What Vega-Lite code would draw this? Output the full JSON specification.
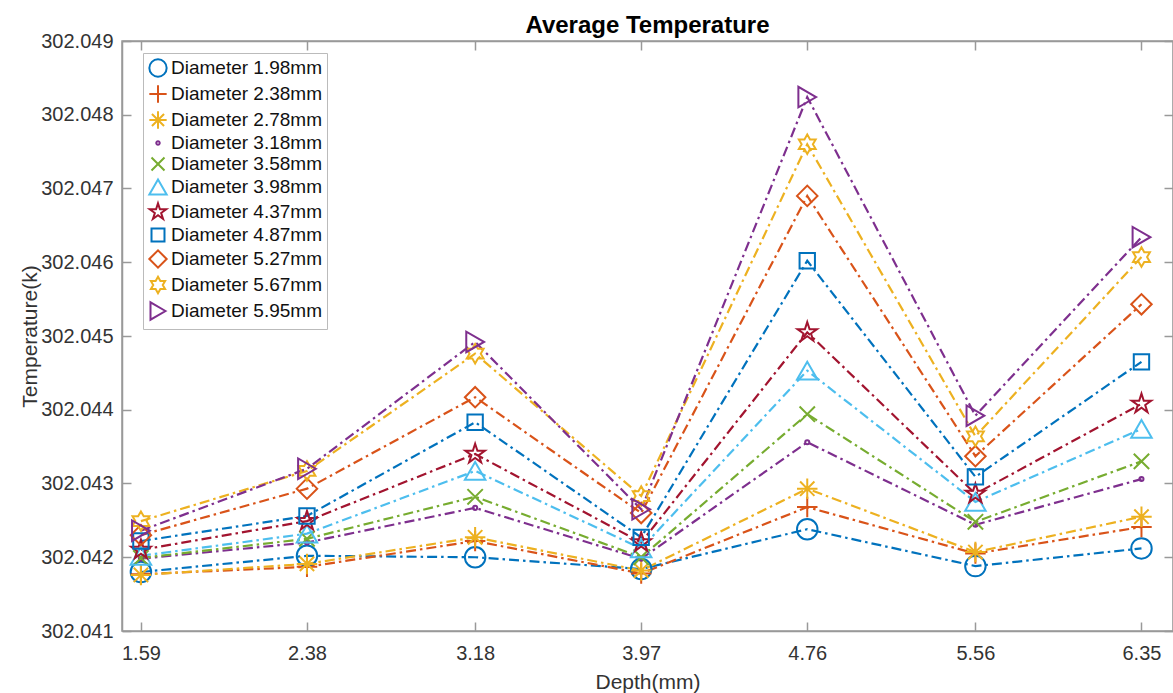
{
 "$schema": "https://vega.github.io/schema/vega-lite/v6.json",
 "autosize": {"type": "none"},
 "padding": {"left": 122, "top": 41, "right": 0, "bottom": 62},
 "width": 1051,
 "height": 590,
 "background": "white",
 "title": {"text": "Average Temperature", "fontSize": 24, "fontWeight": "bold", "font": "Liberation Sans", "offset": -7, "color": "#000", "anchor": "middle"},
 "config": {
  "view": {"stroke": "#999", "strokeWidth": 1.5},
  "axis": {"domainColor": "#999", "domainWidth": 1.5, "tickColor": "#999", "tickWidth": 1.5, "tickSize": -9, "labelColor": "#333", "labelFont": "Liberation Sans", "labelFontSize": 20, "titleFont": "Liberation Sans", "titleFontSize": 21, "titleFontWeight": "normal", "titleColor": "#333", "grid": false},
  "legend": {"orient": "none", "legendX": 21, "legendY": 12, "strokeColor": "#bbb", "fillColor": "#fff", "padding": 5, "labelFontSize": 19, "labelFont": "Liberation Sans", "labelColor": "#111", "symbolSize": 300, "symbolStrokeWidth": 2, "rowPadding": 0, "labelOffset": 3, "labelLimit": 300}
 },
 "data": {"values": [
  {"series": "Diameter 1.98mm", "depth": 1.59, "temp": 302.04180},
  {"series": "Diameter 1.98mm", "depth": 2.38, "temp": 302.04202},
  {"series": "Diameter 1.98mm", "depth": 3.18, "temp": 302.04200},
  {"series": "Diameter 1.98mm", "depth": 3.97, "temp": 302.04184},
  {"series": "Diameter 1.98mm", "depth": 4.76, "temp": 302.04238},
  {"series": "Diameter 1.98mm", "depth": 5.56, "temp": 302.04188},
  {"series": "Diameter 1.98mm", "depth": 6.35, "temp": 302.04212},
  {"series": "Diameter 2.38mm", "depth": 1.59, "temp": 302.04177},
  {"series": "Diameter 2.38mm", "depth": 2.38, "temp": 302.04187},
  {"series": "Diameter 2.38mm", "depth": 3.18, "temp": 302.04222},
  {"series": "Diameter 2.38mm", "depth": 3.97, "temp": 302.04178},
  {"series": "Diameter 2.38mm", "depth": 4.76, "temp": 302.04268},
  {"series": "Diameter 2.38mm", "depth": 5.56, "temp": 302.04205},
  {"series": "Diameter 2.38mm", "depth": 6.35, "temp": 302.04241},
  {"series": "Diameter 2.78mm", "depth": 1.59, "temp": 302.04176},
  {"series": "Diameter 2.78mm", "depth": 2.38, "temp": 302.04191},
  {"series": "Diameter 2.78mm", "depth": 3.18, "temp": 302.04227},
  {"series": "Diameter 2.78mm", "depth": 3.97, "temp": 302.04182},
  {"series": "Diameter 2.78mm", "depth": 4.76, "temp": 302.04293},
  {"series": "Diameter 2.78mm", "depth": 5.56, "temp": 302.04207},
  {"series": "Diameter 2.78mm", "depth": 6.35, "temp": 302.04255},
  {"series": "Diameter 3.18mm", "depth": 1.59, "temp": 302.04198},
  {"series": "Diameter 3.18mm", "depth": 2.38, "temp": 302.04220},
  {"series": "Diameter 3.18mm", "depth": 3.18, "temp": 302.04267},
  {"series": "Diameter 3.18mm", "depth": 3.97, "temp": 302.04198},
  {"series": "Diameter 3.18mm", "depth": 4.76, "temp": 302.04356},
  {"series": "Diameter 3.18mm", "depth": 5.56, "temp": 302.04244},
  {"series": "Diameter 3.18mm", "depth": 6.35, "temp": 302.04306},
  {"series": "Diameter 3.58mm", "depth": 1.59, "temp": 302.04199},
  {"series": "Diameter 3.58mm", "depth": 2.38, "temp": 302.04225},
  {"series": "Diameter 3.58mm", "depth": 3.18, "temp": 302.04282},
  {"series": "Diameter 3.58mm", "depth": 3.97, "temp": 302.04200},
  {"series": "Diameter 3.58mm", "depth": 4.76, "temp": 302.04394},
  {"series": "Diameter 3.58mm", "depth": 5.56, "temp": 302.04248},
  {"series": "Diameter 3.58mm", "depth": 6.35, "temp": 302.04330},
  {"series": "Diameter 3.98mm", "depth": 1.59, "temp": 302.04202},
  {"series": "Diameter 3.98mm", "depth": 2.38, "temp": 302.04232},
  {"series": "Diameter 3.98mm", "depth": 3.18, "temp": 302.04317},
  {"series": "Diameter 3.98mm", "depth": 3.97, "temp": 302.04212},
  {"series": "Diameter 3.98mm", "depth": 4.76, "temp": 302.04453},
  {"series": "Diameter 3.98mm", "depth": 5.56, "temp": 302.04275},
  {"series": "Diameter 3.98mm", "depth": 6.35, "temp": 302.04374},
  {"series": "Diameter 4.37mm", "depth": 1.59, "temp": 302.04210},
  {"series": "Diameter 4.37mm", "depth": 2.38, "temp": 302.04249},
  {"series": "Diameter 4.37mm", "depth": 3.18, "temp": 302.04340},
  {"series": "Diameter 4.37mm", "depth": 3.97, "temp": 302.04220},
  {"series": "Diameter 4.37mm", "depth": 4.76, "temp": 302.04505},
  {"series": "Diameter 4.37mm", "depth": 5.56, "temp": 302.04286},
  {"series": "Diameter 4.37mm", "depth": 6.35, "temp": 302.04408},
  {"series": "Diameter 4.87mm", "depth": 1.59, "temp": 302.04222},
  {"series": "Diameter 4.87mm", "depth": 2.38, "temp": 302.04256},
  {"series": "Diameter 4.87mm", "depth": 3.18, "temp": 302.04383},
  {"series": "Diameter 4.87mm", "depth": 3.97, "temp": 302.04227},
  {"series": "Diameter 4.87mm", "depth": 4.76, "temp": 302.04602},
  {"series": "Diameter 4.87mm", "depth": 5.56, "temp": 302.04309},
  {"series": "Diameter 4.87mm", "depth": 6.35, "temp": 302.04465},
  {"series": "Diameter 5.27mm", "depth": 1.59, "temp": 302.04230},
  {"series": "Diameter 5.27mm", "depth": 2.38, "temp": 302.04293},
  {"series": "Diameter 5.27mm", "depth": 3.18, "temp": 302.04417},
  {"series": "Diameter 5.27mm", "depth": 3.97, "temp": 302.04260},
  {"series": "Diameter 5.27mm", "depth": 4.76, "temp": 302.04690},
  {"series": "Diameter 5.27mm", "depth": 5.56, "temp": 302.04337},
  {"series": "Diameter 5.27mm", "depth": 6.35, "temp": 302.04543},
  {"series": "Diameter 5.67mm", "depth": 1.59, "temp": 302.04249},
  {"series": "Diameter 5.67mm", "depth": 2.38, "temp": 302.04317},
  {"series": "Diameter 5.67mm", "depth": 3.18, "temp": 302.04476},
  {"series": "Diameter 5.67mm", "depth": 3.97, "temp": 302.04283},
  {"series": "Diameter 5.67mm", "depth": 4.76, "temp": 302.04760},
  {"series": "Diameter 5.67mm", "depth": 5.56, "temp": 302.04364},
  {"series": "Diameter 5.67mm", "depth": 6.35, "temp": 302.04607},
  {"series": "Diameter 5.95mm", "depth": 1.59, "temp": 302.04236},
  {"series": "Diameter 5.95mm", "depth": 2.38, "temp": 302.04320},
  {"series": "Diameter 5.95mm", "depth": 3.18, "temp": 302.04492},
  {"series": "Diameter 5.95mm", "depth": 3.97, "temp": 302.04265},
  {"series": "Diameter 5.95mm", "depth": 4.76, "temp": 302.04824},
  {"series": "Diameter 5.95mm", "depth": 5.56, "temp": 302.04392},
  {"series": "Diameter 5.95mm", "depth": 6.35, "temp": 302.04634}
 ]},
 "layer": [
  {
   "mark": {"type": "line", "strokeWidth": 2.2, "strokeDash": [10, 4, 2.5, 4]},
   "encoding": {
    "x": {"field": "depth", "type": "quantitative", "scale": {"domain": [1.5, 6.5], "nice": false, "zero": false},
          "axis": {"orient": "bottom", "values": [1.59, 2.38, 3.18, 3.97, 4.76, 5.56, 6.35], "format": ".2f", "title": "Depth(mm)", "labelPadding": 21, "titlePadding": 8}},
    "y": {"field": "temp", "type": "quantitative", "scale": {"domain": [302.041, 302.049], "nice": false, "zero": false},
          "axis": {"orient": "left", "values": [302.041, 302.042, 302.043, 302.044, 302.045, 302.046, 302.047, 302.048, 302.049], "format": ".3f", "title": "Temperature(k)", "labelPadding": 18, "titlePadding": 0}},
    "color": {"field": "series", "type": "nominal", "legend": null,
              "scale": {"domain": ["Diameter 1.98mm", "Diameter 2.38mm", "Diameter 2.78mm", "Diameter 3.18mm", "Diameter 3.58mm", "Diameter 3.98mm", "Diameter 4.37mm", "Diameter 4.87mm", "Diameter 5.27mm", "Diameter 5.67mm", "Diameter 5.95mm"],
                        "range": ["#0072BD", "#D95319", "#EDB120", "#7E2F8E", "#77AC30", "#4DBEEE", "#A2142F", "#0072BD", "#D95319", "#EDB120", "#7E2F8E"]}},
    "detail": {"field": "series"}
   }
  },
  {
   "mark": {"type": "point", "filled": false, "strokeWidth": 2, "size": 420, "opacity": 1},
   "encoding": {
    "x": {"field": "depth", "type": "quantitative", "axis": {"orient": "top", "values": [1.59, 2.38, 3.18, 3.97, 4.76, 5.56, 6.35], "labels": false, "title": null}},
    "y": {"field": "temp", "type": "quantitative", "axis": {"orient": "right", "values": [302.041, 302.042, 302.043, 302.044, 302.045, 302.046, 302.047, 302.048, 302.049], "labels": false, "title": null}},
    "color": {"field": "series", "type": "nominal", "legend": {"title": null}},
    "shape": {"field": "series", "type": "nominal", "legend": {"title": null},
              "scale": {"domain": ["Diameter 1.98mm", "Diameter 2.38mm", "Diameter 2.78mm", "Diameter 3.18mm", "Diameter 3.58mm", "Diameter 3.98mm", "Diameter 4.37mm", "Diameter 4.87mm", "Diameter 5.27mm", "Diameter 5.67mm", "Diameter 5.95mm"],
                        "range": ["circle", "M-1,0L1,0M0,-1L0,1", "M-1,0L1,0M0,-1L0,1M-0.7,-0.7L0.7,0.7M-0.7,0.7L0.7,-0.7", "M0.2,0A0.2,0.2 0 1,1 -0.2,0A0.2,0.2 0 1,1 0.2,0Z", "M-0.75,-0.75L0.75,0.75M-0.75,0.75L0.75,-0.75", "triangle-up", "M0,-1L0.2245,-0.309L0.951,-0.309L0.363,0.118L0.588,0.809L0,0.382L-0.588,0.809L-0.363,0.118L-0.951,-0.309L-0.2245,-0.309Z", "M-0.75,-0.75L0.75,-0.75L0.75,0.75L-0.75,0.75Z", "diamond", "M0,-0.95L0.274,-0.475L0.823,-0.475L0.548,0L0.823,0.475L0.274,0.475L0,0.95L-0.274,0.475L-0.823,0.475L-0.548,0L-0.823,-0.475L-0.274,-0.475Z", "triangle-right"]}}
   }
  }
 ],
 "resolve": {"axis": {"x": "independent", "y": "independent"}, "legend": {"color": "independent", "shape": "independent"}}
}
